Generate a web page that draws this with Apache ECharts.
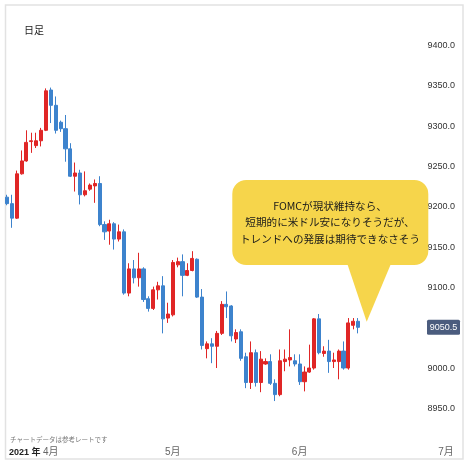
<!DOCTYPE html>
<html><head><meta charset="utf-8">
<script src="https://cdn.jsdelivr.net/npm/echarts@6/dist/echarts.min.js"></script>
<style>html,body{margin:0;padding:0;background:#fff}#c{width:468px;height:467px}</style>
</head><body><div id="c"></div>
<script>
// Daily candles (日足)
const opens  = [9212,9204,9186,9241,9257,9281,9276,9282,9295,9345,9326,9305,9297,9272,9238,9242,9215,9222,9226,9229,
                9178,9170,9179,9160,9169,9093,9123,9112,9123,9086,9074,9097,9102,9062,9066,9128,9132,9115,9121,9135,
                9088,9024,9030,9027,9043,9079,9077,9036,9045,9014,8982,9019,8982,9005,9008,8981,8967,9008,9010,9009,
                9005,8983,8995,9000,9061,9018,9021,9008,9008,9021,9000,9053,9058];
const closes = [9204,9186,9241,9257,9280,9282,9282,9295,9344,9326,9295,9297,9272,9238,9242,9215,9220,9227,9229,9178,
                9169,9179,9160,9169,9093,9123,9112,9123,9085,9074,9097,9102,9061,9067,9131,9132,9115,9121,9136,9088,
                9028,9030,9027,9043,9079,9076,9040,9044,9012,8982,9019,8982,9011,9008,8981,8967,9009,9011,9013,9005,
                8983,8995,9000,9061,9019,9021,9008,9010,9021,9000,9056,9058,9050.5];
const lows   = [9202,9174,9185,9240,9256,9267,9273,9275,9294,9304,9291,9293,9256,9237,9219,9203,9213,9220,9205,9176,
                9159,9153,9147,9157,9091,9089,9105,9101,9082,9070,9072,9085,9043,9056,9064,9125,9089,9114,9120,9087,
                9023,9012,9006,9000,9041,9062,9033,9031,9009,8975,8974,8977,8970,9004,8979,8959,8965,8996,9002,9002,
                8979,8971,8994,8998,9017,9014,8994,9000,8986,8998,8998,9048,9043];
const highs  = [9215,9215,9245,9270,9295,9292,9292,9298,9347,9348,9337,9307,9314,9279,9255,9246,9244,9229,9234,9238,
                9182,9184,9181,9178,9172,9130,9134,9143,9125,9089,9101,9107,9114,9081,9134,9137,9141,9130,9145,9136,
                9098,9033,9037,9046,9083,9095,9078,9048,9048,9019,9033,9023,9021,9012,9017,8986,9023,9023,9048,9017,
                9017,9002,9029,9062,9067,9027,9035,9019,9023,9033,9062,9062,9062];
const totalSlots = 94;               // trading-day slots on the axis incl. empty future space
const monthLabels = ['4月','5月','6月','7月'];
const monthSlots  = [9, 34, 60, 90];
const lastPrice = 9050.5;
const yMin = 8900, yMax = 9450, yStep = 50;
const calloutLines = ['FOMCが現状維持なら、','短期的に米ドル安になりそうだが、','トレンドへの発展は期待できなさそう'];

const FONT = "'Liberation Sans','Noto Sans CJK JP',sans-serif";
const slots = [];
for (let i = 0; i < totalSlots; i++) slots.push('d' + i);
const candles = opens.map((o, i) => [o, closes[i], lows[i], highs[i]]);

const chart = echarts.init(document.getElementById('c'), null, {renderer: 'canvas'});
chart.setOption({
  animation: false,
  backgroundColor: '#ffffff',
  textStyle: {fontFamily: FONT},
  grid: {left: 4.5, right: 5, top: 5.4, bottom: 18.4, containLabel: false},
  xAxis: {
    type: 'category', data: slots, boundaryGap: true,
    axisLine: {show: false}, axisTick: {show: false}, splitLine: {show: false},
    axisLabel: {
      interval: (idx) => monthSlots.indexOf(idx) >= 0,
      formatter: (v, idx) => { const k = monthSlots.indexOf(idx); return k >= 0 ? monthLabels[k] : ''; },
      margin: -1, fontSize: 10, color: '#666', fontFamily: FONT
    }
  },
  yAxis: {
    type: 'value', position: 'right', min: yMin, max: yMax, interval: yStep, scale: true,
    axisLine: {show: false}, axisTick: {show: false}, splitLine: {show: false},
    axisLabel: {
      inside: true, margin: 8, fontSize: 9, color: '#333', fontFamily: FONT,
      formatter: (v) => (v === yMin || v === yMax) ? '' : v.toFixed(1)
    }
  },
  series: [{
    type: 'candlestick',
    data: candles,
    barWidth: 3.6,
    itemStyle: {
      color: '#e02626', color0: '#3d83cd',
      borderColor: '#e02626', borderColor0: '#3d83cd', borderWidth: 1
    }
  }]
});

const py = chart.convertToPixel({yAxisIndex: 0}, lastPrice);
chart.setOption({
  graphic: [
    {type: 'rect', shape: {x: 5.5, y: 5, width: 457.5, height: 454}, style: {fill: 'none', stroke: '#e2e2e2', lineWidth: 1.5}, z: 1},
    {type: 'text', x: 24, y: 30, style: {text: '日足', font: "10px 'Noto Sans CJK JP'", fill: '#222', textVerticalAlign: 'middle'}},
    {type: 'text', x: 10, y: 440, style: {text: 'チャートデータは参考レートです', font: "6.5px 'Noto Sans CJK JP'", fill: '#777', textVerticalAlign: 'middle'}},
    {type: 'text', x: 9, y: 452.5, style: {text: '2021 年', font: "bold 9px 'Liberation Sans Narrow','Liberation Sans','Noto Sans CJK JP'", fill: '#222', textVerticalAlign: 'middle'}},
    {type: 'polygon', shape: {points: [[346.7, 262], [391.7, 262], [366.7, 321.7]]}, style: {fill: '#f6d54b'}, z: 10},
    {type: 'rect', shape: {x: 232.3, y: 180, width: 196, height: 85, r: 14}, style: {fill: '#f6d54b'}, z: 10},
    {type: 'text', x: 330, y: 222, z: 11, style: {
      text: calloutLines.join('\n'), font: "10.6px 'Noto Sans CJK JP'", fill: '#1a1a1a',
      textAlign: 'center', textVerticalAlign: 'middle', lineHeight: 16.5}},
    {type: 'rect', shape: {x: 427, y: py - 7.5, width: 33, height: 15, r: 1.5}, style: {fill: '#4b5c7e'}, z: 12},
    {type: 'text', x: 443.5, y: py, z: 13, style: {text: lastPrice.toFixed(1), font: "9px 'Liberation Sans'", fill: '#ffffff', textAlign: 'center', textVerticalAlign: 'middle'}}
  ]
});
</script></body></html>
